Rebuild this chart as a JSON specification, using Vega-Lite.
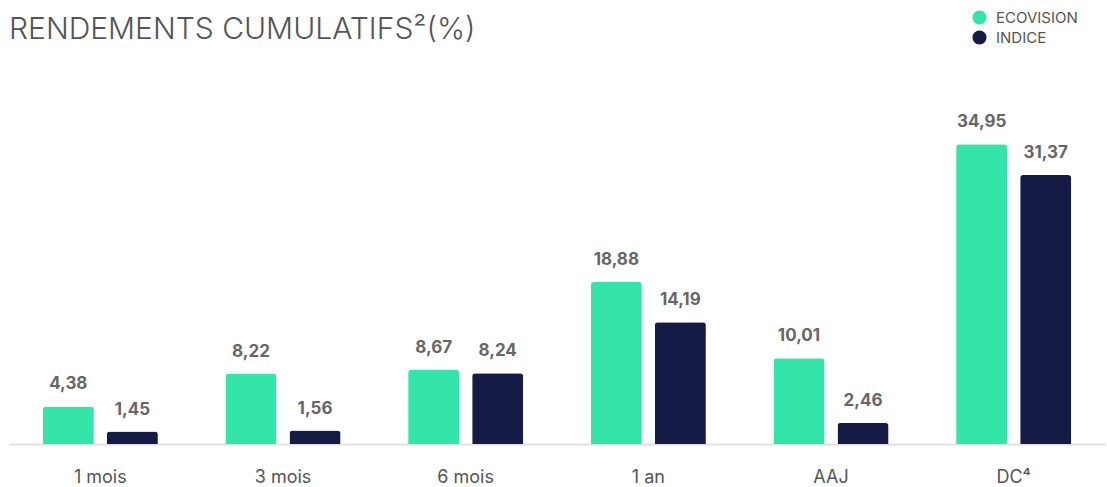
{
  "$schema": "https://vega.github.io/schema/vega-lite/v6.json",
  "width": 1096,
  "height": 343,
  "autosize": "none",
  "padding": {"left": 9, "top": 101, "right": 2, "bottom": 43},
  "background": "white",
  "config": {
    "view": {"stroke": null},
    "locale": {"number": {"decimal": ",", "thousands": " ", "grouping": [3], "currency": ["", " €"]}},
    "font": "Inter"
  },
  "title": {
    "text": "RENDEMENTS CUMULATIFS²(%)",
    "anchor": "start",
    "frame": "group",
    "offset": -35,
    "fontSize": 30,
    "fontWeight": 300,
    "color": "#555555",
    "font": "Inter"
  },
  "data": {
    "values": [
      {"periode": "1 mois", "serie": "ECOVISION", "valeur": 4.38},
      {"periode": "1 mois", "serie": "INDICE", "valeur": 1.45},
      {"periode": "3 mois", "serie": "ECOVISION", "valeur": 8.22},
      {"periode": "3 mois", "serie": "INDICE", "valeur": 1.56},
      {"periode": "6 mois", "serie": "ECOVISION", "valeur": 8.67},
      {"periode": "6 mois", "serie": "INDICE", "valeur": 8.24},
      {"periode": "1 an", "serie": "ECOVISION", "valeur": 18.88},
      {"periode": "1 an", "serie": "INDICE", "valeur": 14.19},
      {"periode": "AAJ", "serie": "ECOVISION", "valeur": 10.01},
      {"periode": "AAJ", "serie": "INDICE", "valeur": 2.46},
      {"periode": "DC⁴", "serie": "ECOVISION", "valeur": 34.95},
      {"periode": "DC⁴", "serie": "INDICE", "valeur": 31.37}
    ]
  },
  "encoding": {
    "x": {
      "field": "periode",
      "type": "nominal",
      "sort": null,
      "scale": {"paddingInner": 0.37, "paddingOuter": 0.185},
      "axis": {
        "title": null,
        "labelAngle": 0,
        "ticks": false,
        "domainColor": "#e0e0e0",
        "domainWidth": 2,
        "labelFontSize": 18,
        "labelColor": "#555555",
        "labelPadding": 24,
        "labelFont": "Inter"
      }
    },
    "xOffset": {
      "field": "serie",
      "type": "nominal",
      "sort": ["ECOVISION", "INDICE"],
      "scale": {"paddingInner": 0.203, "paddingOuter": 0}
    },
    "y": {
      "field": "valeur",
      "type": "quantitative",
      "scale": {"domain": [0, 40], "nice": false},
      "axis": null
    }
  },
  "layer": [
    {
      "mark": {"type": "bar", "cornerRadiusTopLeft": 3, "cornerRadiusTopRight": 3},
      "encoding": {
        "color": {
          "field": "serie",
          "type": "nominal",
          "scale": {"domain": ["ECOVISION", "INDICE"], "range": ["#33E5A8", "#161B46"]},
          "legend": {
            "title": null,
            "orient": "none",
            "legendX": 963,
            "legendY": -91,
            "symbolType": "circle",
            "symbolSize": 200,
            "symbolStrokeWidth": 0,
            "labelFontSize": 15,
            "labelColor": "#555555",
            "labelFont": "Inter",
            "labelOffset": 9,
            "rowPadding": 4
          }
        }
      }
    },
    {
      "mark": {"type": "text", "baseline": "alphabetic", "dy": -17, "fontSize": 17, "fontWeight": "bold", "color": "#666666", "font": "Inter"},
      "encoding": {
        "text": {"field": "valeur", "type": "quantitative", "format": ".2f"}
      }
    }
  ]
}
